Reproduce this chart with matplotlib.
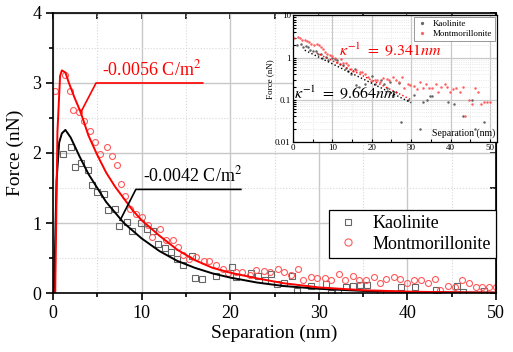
import numpy as np
import matplotlib
matplotlib.use("Agg")
import matplotlib.pyplot as plt
from matplotlib.ticker import MultipleLocator, FixedLocator, NullFormatter

plt.rcParams['font.family'] = ['Liberation Serif', 'DejaVu Serif']
plt.rcParams['mathtext.fontset'] = 'stix'

kao_x = [1.13, 2.0, 2.45, 3.2, 3.9, 4.4, 5.0, 5.8, 6.26, 7.05, 7.5, 8.4, 8.97, 9.9,
         10.6, 11.3, 11.9, 12.65, 13.35, 14.0, 14.65, 15.7, 16.05, 16.8, 18.35, 20.15,
         20.7, 22.4, 23.1, 23.9, 24.6, 25.3, 26.05, 27.0, 27.5, 29.15, 30.8, 31.4, 32.2,
         33.1, 33.9, 34.7, 35.4, 36.9, 39.3, 40.8, 43.2, 45.55, 46.3, 48.6]
kao_y = [1.98, 2.08, 1.80, 1.85, 1.76, 1.54, 1.44, 1.41, 1.19, 1.20, 0.96, 1.02, 0.88, 1.00,
         0.92, 0.89, 0.70, 0.65, 0.58, 0.49, 0.40, 0.53, 0.22, 0.20, 0.24, 0.37,
         0.23, 0.29, 0.24, 0.19, 0.27, 0.13, 0.15, 0.25, 0.03, 0.10, 0.13, 0.005, 0.02,
         0.09, 0.10, 0.12, 0.12, 0.005, 0.09, 0.08, 0.04, 0.10, 0.02, 0.03]

mont_x = [0.23, 1.32, 1.89, 2.26, 2.94, 3.54, 4.15, 4.71, 5.28, 6.14, 6.67, 7.2, 7.68, 8.18,
          8.67, 9.42, 10.03, 10.67, 11.16, 12.1, 12.75, 13.5, 14.07, 14.7, 15.3, 16.1,
          17.0, 17.6, 18.4, 19.15, 19.8, 20.7, 21.3, 22.2, 22.9, 23.8, 24.5, 25.4, 26.1,
          26.9, 27.7, 28.2, 29.1, 29.8, 30.7, 31.4, 32.3, 33.0, 33.8, 34.5, 35.3, 36.2,
          36.9, 37.6, 38.5, 39.2, 39.9, 40.7, 41.5, 42.3, 43.1, 43.7, 44.6, 45.4, 46.2,
          46.9, 47.7, 48.4, 49.2, 49.96]
mont_y = [2.88, 3.11, 2.89, 2.62, 2.58, 2.45, 2.31, 2.16, 1.98, 2.09, 1.95, 1.83, 1.56, 1.38,
          1.20, 1.13, 1.08, 0.97, 0.80, 0.91, 0.76, 0.76, 0.66, 0.54, 0.48, 0.52,
          0.46, 0.46, 0.40, 0.35, 0.28, 0.30, 0.30, 0.26, 0.33, 0.31, 0.30, 0.34, 0.30,
          0.26, 0.34, 0.19, 0.23, 0.22, 0.21, 0.18, 0.27, 0.19, 0.24, 0.19, 0.19, 0.23,
          0.15, 0.20, 0.23, 0.20, 0.15, 0.18, 0.19, 0.15, 0.20, 0.04, 0.10, 0.08, 0.19,
          0.15, 0.08, 0.09, 0.09, 0.09]

# model curves (traced)
fitk_x = [0.12, 0.4, 0.7, 1.0, 1.4, 2.0, 3.0, 4.0, 5.0, 6.0, 7.0, 8.0, 10, 12, 14, 16, 18,
          20, 23, 26, 30, 35, 40, 45, 50]
fitk_y = [0, 1.6, 2.15, 2.28, 2.33, 2.22, 1.95, 1.7, 1.5, 1.3, 1.15, 1.0, 0.78, 0.6, 0.46,
          0.36, 0.28, 0.22, 0.15, 0.1, 0.06, 0.03, 0.015, 0.008, 0.004]
fitm_x = [0.25, 0.5, 0.8, 1.0, 1.4, 1.8, 2.4, 3.1, 4.0, 5.0, 6.0, 7.0, 8.0, 9.0, 10, 12, 14,
          16, 18, 20, 23, 26, 30, 35, 40, 45, 50]
fitm_y = [0, 2.3, 3.1, 3.18, 3.15, 3.0, 2.8, 2.59, 2.25, 1.97, 1.72, 1.52, 1.35, 1.18, 1.04,
          0.82, 0.62, 0.47, 0.36, 0.29, 0.21, 0.14, 0.08, 0.04, 0.02, 0.01, 0.006]

# exponential fits in the inset (end points)
expk_x = [3, 30]
expk_y = [1.5, 0.085]
expm_x = [6, 30]
expm_y = [1.3, 0.1]

fig = plt.figure(figsize=(5.13, 3.52), dpi=100)
ax = fig.add_axes([0.1033, 0.1676, 0.8637, 0.7955])

ax.plot(kao_x, kao_y, 's', mfc='none', mec='#666666', ms=3.8, mew=0.8, label='Kaolinite')
ax.plot(mont_x, mont_y, 'o', mfc='none', mec='#ff5a5a', ms=4.3, mew=0.8, label='Montmorillonite')
ax.plot(fitk_x, fitk_y, '-', color='black', lw=1.4)
ax.plot(fitm_x, fitm_y, '-', color='red', lw=1.4)

# annotation leaders
ax.plot([3.13, 4.86, 16.9], [2.58, 3.0, 3.0], '-', color='red', lw=1.2)
ax.text(5.5, 3.05, r'-0.0056 C/m$^2$', color='red', fontsize=13, va='bottom')
ax.plot([7.58, 9.35, 21.2], [1.04, 1.48, 1.48], '-', color='black', lw=1.2)
ax.text(10.2, 1.53, r'-0.0042 C/m$^2$', color='black', fontsize=13, va='bottom')

ax.set_xlim(0, 50)
ax.set_ylim(0, 4)
ax.xaxis.set_major_locator(MultipleLocator(10))
ax.xaxis.set_minor_locator(MultipleLocator(5))
ax.yaxis.set_major_locator(MultipleLocator(1))
ax.yaxis.set_minor_locator(MultipleLocator(0.5))
ax.grid(which='major', color='#c8c8c8', lw=1.0)
ax.grid(which='minor', color='#d8d8d8', lw=0.8, ls=':')
ax.set_axisbelow(True)
ax.tick_params(which='major', direction='out', length=5, width=1.2, labelsize=13)
ax.tick_params(which='minor', direction='out', length=3, width=1.2)
for s in ax.spines.values():
    s.set_linewidth(1.2)
ax.set_xlabel('Separation (nm)', fontsize=14, labelpad=2)
ax.set_ylabel('Force (nN)', fontsize=14, labelpad=6)

top = ax.secondary_xaxis('top')
top.xaxis.set_major_locator(MultipleLocator(10))
top.xaxis.set_minor_locator(MultipleLocator(5))
top.tick_params(which='both', direction='in', length=4, width=1.2, labeltop=False)
right = ax.secondary_yaxis('right')
right.yaxis.set_major_locator(MultipleLocator(1))
right.yaxis.set_minor_locator(MultipleLocator(0.5))
right.tick_params(which='both', direction='in', length=4, width=1.2, labelright=False)

leg = ax.legend(loc='lower right', bbox_to_anchor=(1.0, 0.125), borderaxespad=0,
                fontsize=13, fancybox=False, edgecolor='black', framealpha=1,
                handletextpad=0.6, borderpad=0.3, labelspacing=0.2, handlelength=1.5,
                markerscale=1.2)
leg.get_frame().set_linewidth(0.9)

# inset
ins = fig.add_axes([0.571, 0.597, 0.398, 0.359])
ins.set_facecolor('white')
ins.plot(kao_x, kao_y, 'o', color='#555555', ms=1.8, mew=0, alpha=0.9, label='Kaolinite')
ins.plot(mont_x, mont_y, 'o', color='#ff5050', ms=1.8, mew=0, alpha=0.9, label='Montmorillonite')
ins.plot(expk_x, expk_y, ':', color='black', lw=1.0)
ins.plot(expm_x, expm_y, ':', color='red', lw=1.0)
ins.set_yscale('log')
ins.set_xlim(0, 51.8)
ins.set_ylim(0.01, 10)
ins.xaxis.set_major_locator(FixedLocator([0, 10, 20, 30, 40, 50]))
ins.xaxis.set_minor_locator(FixedLocator([5, 15, 25, 35, 45]))
ins.yaxis.set_major_locator(FixedLocator([0.01, 0.1, 1, 10]))
ins.set_yticklabels(['0.01', '0.1', '1', '10'])
ins.yaxis.set_minor_formatter(NullFormatter())
ins.grid(which='major', color='#c8c8c8', lw=0.9)
ins.grid(which='minor', color='#e0e0e0', lw=0.6, ls=':')
ins.set_axisbelow(True)
ins.tick_params(which='both', labelsize=6.5, length=2, width=0.8, pad=1.5, direction='in')
for s in ins.spines.values():
    s.set_linewidth(0.9)
ins.set_ylabel('Force (nN)', fontsize=6.5, labelpad=1)
ins.text(0.99, 0.03, 'Separation (nm)', transform=ins.transAxes, fontsize=7,
         ha='right', va='bottom')
ins.text(11.7, 1.5, r'$\kappa^{-1}\ =\ 9.341nm$', color='red', fontsize=11.5, va='center')
ins.text(0.3, 0.145, r'$\kappa^{-1}\ =\ 9.664nm$', color='black', fontsize=11.5, va='center')
ileg = ins.legend(loc='upper right', fontsize=6.5, fancybox=False, edgecolor='#888888',
                  framealpha=1, borderaxespad=0.2, borderpad=0.3, labelspacing=0.2,
                  handletextpad=0.6, handlelength=1.2, markerscale=1.3)
ileg.get_frame().set_linewidth(0.6)

fig.savefig('out.png', dpi=100)
